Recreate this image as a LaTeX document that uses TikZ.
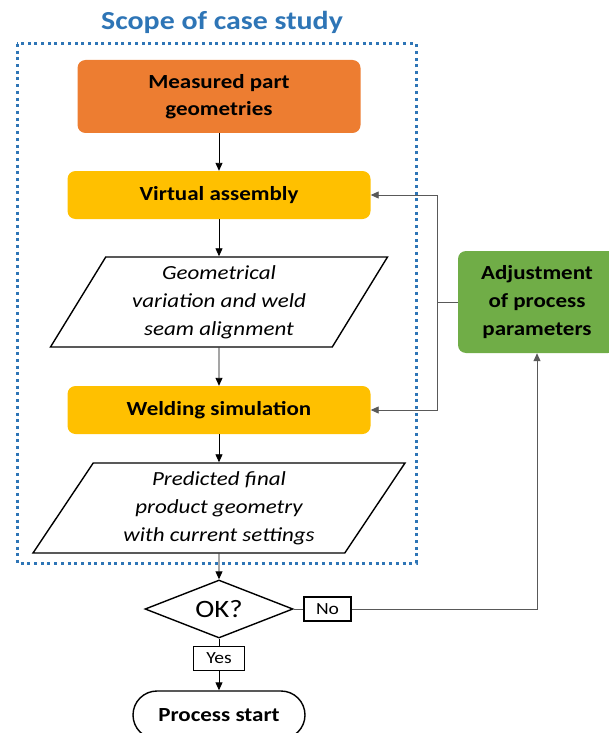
\documentclass[tikz,border=0pt]{standalone}
\usepackage{fontspec}
\setmainfont{Carlito}[FakeStretch=1.15]
\usetikzlibrary{shapes.geometric,arrows.meta}
\definecolor{scopeblue}{HTML}{2E75B6}
\definecolor{partorange}{HTML}{ED7D31}
\definecolor{stepyellow}{HTML}{FFC000}
\definecolor{adjgreen}{HTML}{70AD47}
\definecolor{loopgray}{HTML}{595959}
\begin{document}
\begin{tikzpicture}[x=1pt,y=-1pt,
  flowbox/.style={rounded corners=8pt,minimum width=303pt,minimum height=48pt,inner sep=0pt,align=center,font=\bfseries\fontsize{20}{27}\selectfont},
  dataio/.style={draw,line width=1.4pt,trapezium,trapezium stretches body,minimum height=90pt,inner sep=0pt,align=center,font=\itshape\fontsize{20}{28}\selectfont},
  tagbox/.style={draw,line width=1.2pt,minimum height=24pt,inner sep=0pt,font=\fontsize{17}{18}\selectfont},
  flow/.style={-{Triangle[length=8pt,width=7pt]},line width=0.9pt},
  back/.style={draw=loopgray,line width=0.9pt}
]
\useasboundingbox (0,0) rectangle (609,733);

\node[text=scopeblue,font=\bfseries\fontsize{26}{30}\selectfont] (title) at (222,22) {Scope of case study};
\draw[scopeblue,line width=3pt,dash pattern=on 3pt off 3.7pt] (17,44) rectangle (416,563);

\node[flowbox,fill=partorange,minimum width=283pt,minimum height=73pt] (measured) at (219,96.5) {Measured part\\geometries};
\node[flowbox,fill=stepyellow] (virtual) at (219,195) {Virtual assembly};
\node[dataio,trapezium left angle=53,trapezium right angle=127,minimum width=337pt] (geomvar) at (219,302) {Geometrical\\variation and weld\\seam alignment};
\node[flowbox,fill=stepyellow] (welding) at (219,410) {Welding simulation};
\node[dataio,trapezium left angle=50.6,trapezium right angle=129.4,minimum width=372pt] (predicted) at (219,508) {Predicted final\\product geometry\\with current settings};
\node[draw,line width=1.4pt,diamond,aspect=2.55,inner sep=0pt,minimum width=148pt,minimum height=58pt,font=\fontsize{25}{28}\selectfont] (ok) at (219,609) {OK?};
\node[tagbox,minimum width=47pt] (nobox) at (327.5,609) {No};
\node[tagbox,minimum width=51pt] (yesbox) at (219,658.5) {Yes};
\node[draw,line width=1.4pt,rounded corners=24pt,minimum width=172pt,minimum height=48pt,font=\bfseries\fontsize{20}{24}\selectfont] (start) at (219,715) {Process start};
\node[flowbox,fill=adjgreen,minimum width=158pt,minimum height=102pt,font=\bfseries\fontsize{20}{28}\selectfont] (adjust) at (537,302) {Adjustment\\of process\\parameters};

\foreach \a/\b in {measured/virtual,virtual/geomvar,geomvar/welding,welding/predicted,predicted/ok}
{
    \draw[flow] (\a) -- (\b);
}
\draw[line width=0.9pt] (ok) -- (yesbox);
\draw[flow] (yesbox) -- (start);

\coordinate (split) at (437,302);
\draw[back] (adjust) -- (split);
\draw[back,flow] (split) |- (virtual);
\draw[back,flow] (split) |- (welding);
\draw[back] (ok) -- (nobox);
\draw[back,flow] (nobox) -| (adjust);
\end{tikzpicture}
\end{document}
